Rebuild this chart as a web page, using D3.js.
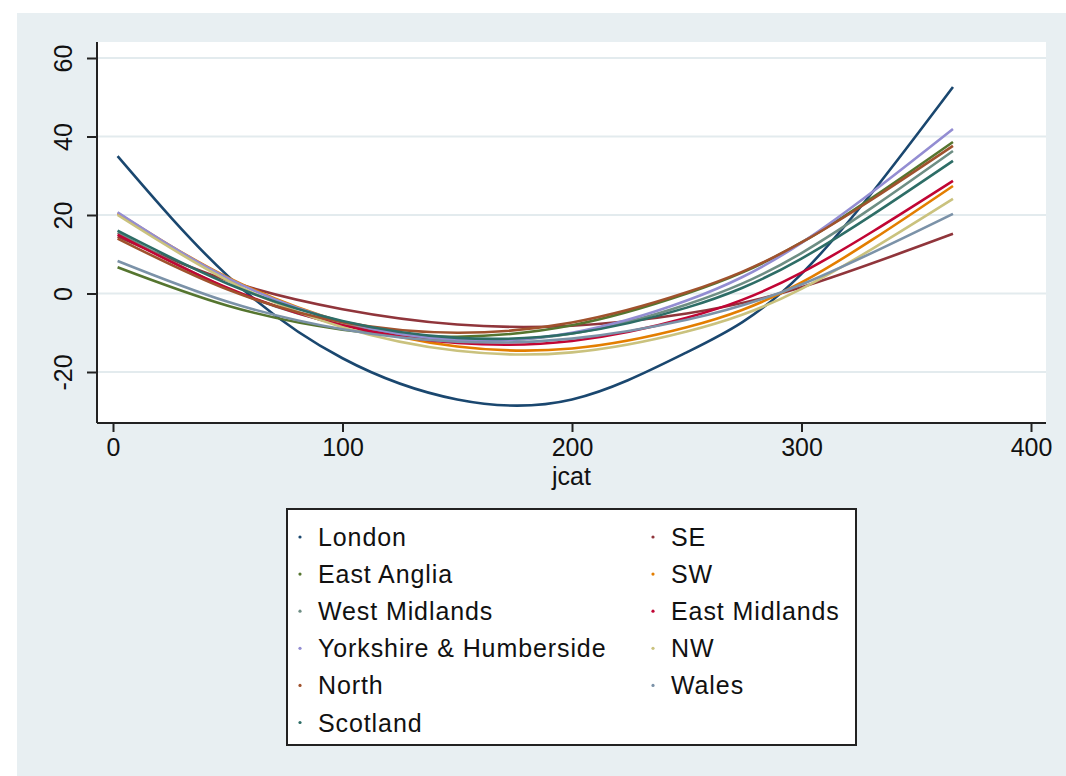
<!DOCTYPE html>
<html>
<head>
<meta charset="utf-8">
<script src="https://cdn.jsdelivr.net/npm/d3@7"></script>
<style>
  html, body { margin: 0; padding: 0; background: #ffffff; }
  svg { display: block; font-family: "Liberation Sans", Arial, sans-serif; }
</style>
</head>
<body>
<svg id="chart" width="1066" height="776"></svg>
<script>
// ---- data ----
const jcat = [2, 50, 100, 150, 200, 250, 300, 366];
const regions = ["London", "SE", "East Anglia", "SW", "West Midlands", "East Midlands",
                 "Yorkshire & Humberside", "NW", "North", "Wales", "Scotland"];
const london       = [35, 4.5, -16.5, -27, -27, -15, 5, 52.6];
const se           = [14.5, 3.3, -4.0, -7.9, -8.2, -5.1, 1.6, 15.2];
const eastAnglia   = [6.7, -3.1, -9.2, -11, -8.1, 0, 13, 38.6];
const sw           = [20.5, 4.1, -7.3, -13.5, -14.0, -8.6, 2.8, 27.4];
const westMidlands = [15.5, 1.3, -8.0, -11.9, -10.2, -2.8, 10.3, 36.3];
const eastMidlands = [15, 1.4, -8.1, -12.6, -12.1, -6.2, 5.3, 28.7];
const yorkshire    = [20.7, 3.9, -7.2, -11.8, -10.0, -1.8, 12.9, 41.9];
const nw           = [20, 3.3, -8.6, -14.6, -15.0, -9.7, 1.2, 24.1];
const north        = [14, 1.0, -7.3, -10, -7.4, 0.3, 13.0, 37.6];
const wales        = [8.3, -2.1, -9.1, -12.3, -11.5, -6.7, 2.3, 20.3];
const scotland     = [16, 2.5, -7.0, -11.3, -10.2, -3.6, 8.9, 33.8];
const seriesValues = [london, se, eastAnglia, sw, westMidlands, eastMidlands,
                      yorkshire, nw, north, wales, scotland];
const colors = ["#1a476f", "#90353b", "#55752f", "#e37e00", "#6e8e84", "#c10534",
                "#938dd2", "#cac27e", "#a0522d", "#7b92a8", "#2d6d66"];
const xTicks = [0, 100, 200, 300, 400];
const yTicks = [-20, 0, 20, 40, 60];
const xTitle = "jcat";

// ---- layout ----
const svg = d3.select("#chart");
const plot = { left: 97, right: 1046, top: 42, bottom: 423 };

svg.append("rect").attr("x", 17).attr("y", 13).attr("width", 1066 - 17).attr("height", 776 - 13)
  .attr("fill", "#e8eff2");
svg.append("rect").attr("x", plot.left).attr("y", plot.top)
  .attr("width", plot.right - plot.left).attr("height", plot.bottom - plot.top)
  .attr("fill", "#ffffff");

const x = d3.scaleLinear().domain([0, 400]).range([113, 1031]);
const y = d3.scaleLinear().domain([-20, 60]).range([372, 58]);

// gridlines
svg.append("g").selectAll("line").data(yTicks).join("line")
  .attr("x1", plot.left).attr("x2", plot.right)
  .attr("y1", d => y(d)).attr("y2", d => y(d))
  .attr("stroke", "#e3ebee").attr("stroke-width", 2);

// lines
const line = d3.line().x(d => x(d[0])).y(d => y(d[1])).curve(d3.curveNatural);
svg.append("g").selectAll("path").data(seriesValues).join("path")
  .attr("d", vals => line(vals.map((v, i) => [jcat[i], v])))
  .attr("fill", "none")
  .attr("stroke", (d, i) => colors[i])
  .attr("stroke-width", 2.6)
  .attr("stroke-linejoin", "round");

// axes
const fmt = d => String(d);
const xAxis = d3.axisBottom(x).tickValues(xTicks).tickSize(9).tickPadding(6).tickFormat(fmt);
const gx = svg.append("g").attr("transform", `translate(0,${plot.bottom})`).call(xAxis);
gx.select(".domain").remove();
gx.append("line").attr("x1", plot.left).attr("x2", plot.right).attr("y1", 0).attr("y2", 0)
  .attr("stroke", "#222").attr("stroke-width", 2);
gx.selectAll(".tick line").attr("stroke", "#222").attr("stroke-width", 2);
gx.selectAll(".tick text").attr("fill", "#111").attr("font-size", 25)
  .attr("font-family", "Liberation Sans, Arial, sans-serif");

const yAxis = d3.axisLeft(y).tickValues(yTicks).tickSize(10).tickPadding(0).tickFormat(fmt);
const gy = svg.append("g").attr("transform", `translate(${plot.left},0)`).call(yAxis);
gy.select(".domain").remove();
gy.append("line").attr("x1", 0).attr("x2", 0).attr("y1", plot.top).attr("y2", plot.bottom)
  .attr("stroke", "#222").attr("stroke-width", 2);
gy.selectAll(".tick line").attr("stroke", "#222").attr("stroke-width", 2);
gy.selectAll(".tick text")
  .attr("x", null).attr("dy", null)
  .attr("transform", "translate(-25,0) rotate(-90)")
  .attr("text-anchor", "middle")
  .attr("fill", "#111").attr("font-size", 25)
  .attr("font-family", "Liberation Sans, Arial, sans-serif");

// x title
svg.append("text").attr("x", (plot.left + plot.right) / 2).attr("y", 485)
  .attr("text-anchor", "middle").attr("font-size", 25).attr("fill", "#111").text(xTitle);

// legend
const leg = { x: 287, y: 509, w: 856 - 287, h: 745 - 509 };
svg.append("rect").attr("x", leg.x).attr("y", leg.y).attr("width", leg.w).attr("height", leg.h)
  .attr("fill", "#ffffff").attr("stroke", "#222").attr("stroke-width", 2);
const colX = [300, 653];
const rowY0 = 537, rowStep = 37.1;
const items = svg.append("g").selectAll("g").data(regions).join("g")
  .attr("transform", (d, i) => `translate(${colX[i % 2]},${rowY0 + Math.floor(i / 2) * rowStep})`);
items.append("circle").attr("r", 1.6).attr("fill", (d, i) => colors[i]);
items.append("text").attr("x", 18).attr("y", 9).attr("font-size", 25).attr("fill", "#111")
  .attr("letter-spacing", 0.9).text(d => d);
</script>
</body>
</html>
